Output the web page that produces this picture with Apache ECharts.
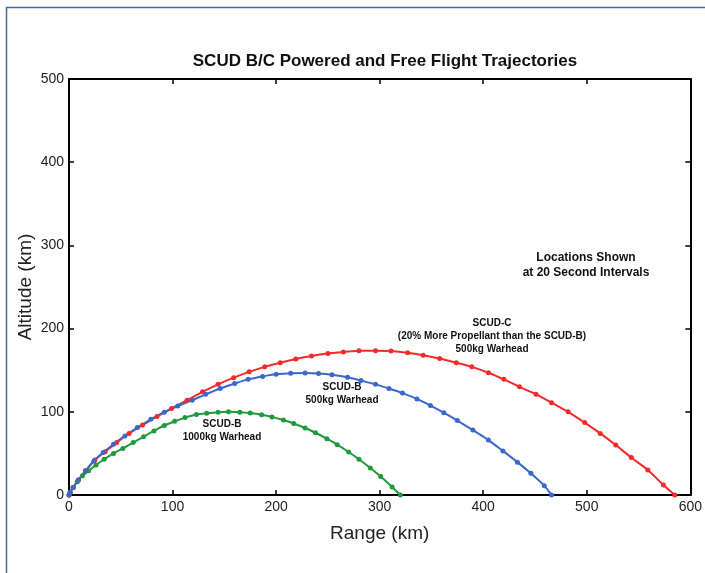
<!DOCTYPE html>
<html>
<head>
<meta charset="utf-8">
<script src="https://cdn.jsdelivr.net/npm/echarts@6/dist/echarts.min.js"></script>
<style>
  html, body { margin: 0; padding: 0; background: #fff; }
  #chart { width: 705px; height: 573px; }
</style>
</head>
<body>
<div id="chart"></div>
<script>
// range (km) and altitude (km), one point every 20 s
var scudCRange = [0, 1, 4, 9, 16, 25, 35, 46, 58, 71, 85, 99, 114, 129, 144, 159, 174, 189, 204, 219, 234, 250, 265, 280, 296, 311, 327, 342, 358, 374, 389, 405, 420, 435, 451, 466, 482, 498, 513, 528, 543, 559, 574, 585];
var scudCAlt   = [0, 3, 9, 18, 29, 42, 52, 63, 74, 84, 94.5, 104, 114, 124, 133, 141, 148, 154, 159, 163.5, 167, 170, 172, 173.3, 173.5, 173, 171, 168, 164, 159, 154, 147, 139, 130, 121, 111, 100, 87, 74, 60, 45, 30, 12, 0];

var scudB500Range = [0, 1, 4, 9, 16, 24, 33, 43, 54, 66, 79, 92, 105, 119, 132, 146, 160, 173, 187, 200, 214, 228, 241, 254, 269, 282, 296, 309, 322, 336, 349, 362, 375, 390, 405, 419, 433, 446, 459, 466];
var scudB500Alt   = [0, 3, 9, 18, 29, 41, 51, 61, 71, 81, 91, 99.5, 107, 114, 121, 128, 134, 139, 142.5, 145, 146.3, 146.5, 146, 144.5, 141.5, 137.5, 133, 128, 122.5, 115.5, 107.5, 99, 89.5, 78, 66, 53, 39.5, 26, 11, 0];

var scudB1000Range = [0, 1, 4, 8, 13, 19, 26, 34, 43, 52, 62, 72, 82, 92, 102, 112, 123, 133, 144, 154, 165, 175, 186, 196, 207, 217, 228, 238, 249, 259, 270, 280, 291, 301, 312, 320];
var scudB1000Alt   = [0, 3, 9, 16, 23, 29, 36, 43, 50, 56, 63, 70, 77, 83.5, 88.5, 93, 96.8, 98.3, 99.5, 100, 99.6, 98.5, 96.5, 93.9, 90.1, 86, 80.5, 74.8, 67.7, 60.5, 51.7, 43, 32.5, 22.2, 9.7, 0];

var rangeTicks = [0, 100, 200, 300, 400, 500, 600];
var altTicks = [0, 100, 200, 300, 400, 500];

function pairs(xs, ys) {
    var out = [];
    for (var i = 0; i < xs.length; i++) out.push([xs[i], ys[i]]);
    return out;
}

var chart = echarts.init(document.getElementById('chart'));
var font = '"Liberation Sans Narrow", "Arial Narrow", "Liberation Sans", Arial, sans-serif';

function trajectory(name, color, xs, ys) {
    return {
        name: name,
        type: 'line',
        data: pairs(xs, ys),
        symbol: 'circle',
        symbolSize: 5,
        smooth: 0.3,
        lineStyle: { color: color, width: 2 },
        itemStyle: { color: color },
        animation: false
    };
}

// annotation text, centred on (x, y)
function label(x, y, lines, size) {
    return {
        type: 'text',
        x: x,
        y: y,
        silent: true,
        style: {
            text: lines.join('\n'),
            fill: '#111',
            font: 'bold ' + size + 'px ' + font,
            align: 'center',
            verticalAlign: 'middle',
            lineHeight: size + 3
        }
    };
}

var axisText = { color: '#222', fontSize: 14, fontFamily: font };
var boxLine = { show: true, onZero: false, lineStyle: { color: '#000', width: 2 } };
var boxTick = { show: true, inside: true, length: 5, lineStyle: { color: '#000', width: 1.5 } };

var option = {
    backgroundColor: '#fff',
    animation: false,
    title: {
        text: 'SCUD B/C Powered and Free Flight Trajectories',
        left: 380,
        top: 48,
        textAlign: 'center',
        textStyle: { fontSize: 17, fontWeight: 'bold', fontFamily: font, color: '#111' }
    },
    grid: { left: 69, right: 11, top: 79, bottom: 78, containLabel: false },
    xAxis: [{
        type: 'value',
        min: 0, max: 600, interval: 100,
        name: 'Range (km)',
        nameLocation: 'middle',
        nameGap: 29,
        nameMoveOverlap: false,
        nameTextStyle: { fontSize: 19, fontFamily: font, color: '#222' },
        axisLine: boxLine,
        axisTick: boxTick,
        axisLabel: Object.assign({ margin: 5, customValues: rangeTicks }, axisText),
        splitLine: { show: false }
    }, {
        type: 'value',
        position: 'top',
        min: 0, max: 600, interval: 100,
        axisLine: boxLine,
        axisTick: boxTick,
        axisLabel: { show: false },
        splitLine: { show: false }
    }],
    yAxis: [{
        type: 'value',
        min: 0, max: 500, interval: 100,
        name: 'Altitude (km)',
        nameLocation: 'middle',
        nameGap: 34,
        nameMoveOverlap: false,
        nameTextStyle: { fontSize: 19, fontFamily: font, color: '#222' },
        axisLine: boxLine,
        axisTick: boxTick,
        axisLabel: Object.assign({ margin: 5, customValues: altTicks }, axisText),
        splitLine: { show: false }
    }, {
        type: 'value',
        position: 'right',
        min: 0, max: 500, interval: 100,
        axisLine: boxLine,
        axisTick: boxTick,
        axisLabel: { show: false },
        splitLine: { show: false }
    }],
    series: [
        trajectory('SCUD-B 1000kg', '#1f9a3c', scudB1000Range, scudB1000Alt),
        trajectory('SCUD-C 500kg', '#f52a2a', scudCRange, scudCAlt),
        trajectory('SCUD-B 500kg', '#3a68cc', scudB500Range, scudB500Alt)
    ],
    graphic: [
        {
            type: 'rect',
            silent: true,
            shape: { x: 6.5, y: 7.5, width: 760, height: 620 },
            style: { fill: 'none', stroke: '#3d6f9f', lineWidth: 1.5 }
        },
        label(586, 265, ['Locations Shown', 'at 20 Second Intervals'], 12),
        label(492, 336, ['SCUD-C', '(20% More Propellant than the SCUD-B)', '500kg Warhead'], 10),
        label(342, 394, ['SCUD-B', '500kg Warhead'], 10),
        label(222, 431, ['SCUD-B', '1000kg Warhead'], 10)
    ]
};

chart.setOption(option);
</script>
</body>
</html>
